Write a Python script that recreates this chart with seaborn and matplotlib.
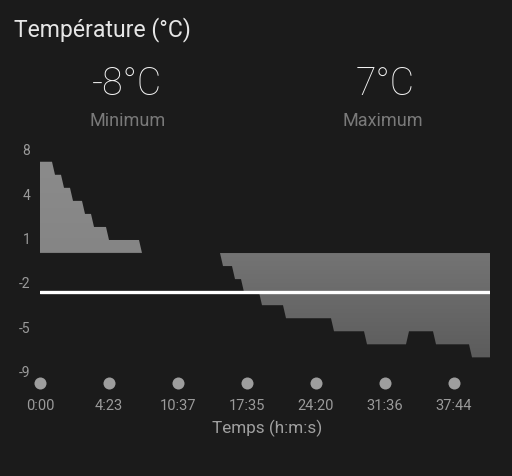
import numpy as np
import seaborn as sns
import matplotlib
matplotlib.use("Agg")
import matplotlib.pyplot as plt
from matplotlib.path import Path
from matplotlib.patches import PathPatch

# temperature levels (°C) and how many samples each level lasts
levels = [7, 6, 5, 4, 3, 2, 1, 0, -1, -2, -3, -4, -5, -6, -7, -6, -7, -8]
counts = [5, 3, 3, 4, 3, 5, 11, 27, 4, 3, 6, 8, 16, 11, 14, 9, 12, 7]
temps = np.repeat(levels, counts)
idx = np.arange(len(temps))

tick_idx = [0, 23, 46, 69, 92, 115, 138]
tick_labels = ["0:00", "4:23", "10:37", "17:35", "24:20", "31:36", "37:44"]
ytick_pos = [8, 4.6, 1.2, -2.2, -5.6, -9]
ytick_labels = ["8", "4", "1", "-2", "-5", "-9"]
ref_line = -3
t_min, t_max = -8, 7

bg = "#1b1b1b"
sns.set_theme(style="dark", rc={"axes.facecolor": bg, "figure.facecolor": bg})
plt.rcParams["font.family"] = ["Roboto", "DejaVu Sans"]

fig = plt.figure(figsize=(5.12, 4.77), dpi=100)
ax = fig.add_axes([40 / 512, 1 - 371.4 / 477, 450 / 512, 221.7 / 477])

sns.lineplot(x=idx, y=temps, ax=ax, lw=0)

# vertical gradient fill clipped to the area under the curve
ys = np.linspace(8, -9, 400)
g = np.where(ys >= 0, 133 + 7 * ys / 8, 116 + 24 * ys / 8) / 255
img = np.dstack([g, g, g]).reshape(len(ys), 1, 3)
im = ax.imshow(img, extent=(0, len(temps) - 1, -9, 8), aspect="auto", origin="upper", zorder=1)
poly = ax.fill_between(idx, temps, 0, color="none", lw=0)
clip = PathPatch(Path.make_compound_path(*poly.get_paths()), transform=ax.transData,
                 facecolor="none", edgecolor="none")
ax.add_patch(clip)
im.set_clip_path(clip)

ax.axhline(ref_line, color="white", lw=2.4, zorder=3)

ax.set_xlim(0, len(temps) - 1)
ax.set_ylim(-9, 8)
for s in ax.spines.values():
    s.set_visible(False)
ax.grid(False)

ax.set_yticks(ytick_pos)
ax.set_yticklabels(ytick_labels, color="#9a9a9a", fontsize=10)
for lbl in ax.get_yticklabels():
    lbl.set_y(lbl.get_position()[1])
ax.set_xticks(tick_idx)
ax.set_xticklabels(tick_labels, color="#9a9a9a", fontsize=10.5)
ax.tick_params(axis="both", length=0)
ax.tick_params(axis="y", pad=7)
ax.tick_params(axis="x", pad=20)

sns.scatterplot(x=tick_idx, y=[-0.057] * len(tick_idx), ax=ax, color="#9e9e9e",
                s=75, linewidth=0, transform=ax.get_xaxis_transform(), clip_on=False, zorder=4)
ax.set_xlim(0, len(temps) - 1)
ax.set_ylim(-9, 8)

fig.text(267 / 512, 1 - 428 / 477, "Temps (h:m:s)", color="#a0a0a0", fontsize=12.3,
         ha="center", va="center")
fig.text(14 / 512, 1 - 36 / 477, "Température (°C)", color="#e6e6e6", fontsize=16.6,
         ha="left", va="baseline")
fig.text(127 / 512, 1 - 95 / 477, f"{t_min}°C", color="#f2f2f2", fontsize=27,
         fontweight="light", ha="center", va="baseline")
fig.text(385 / 512, 1 - 95 / 477, f"{t_max}°C", color="#f2f2f2", fontsize=27,
         fontweight="light", ha="center", va="baseline")
fig.text(128 / 512, 1 - 126 / 477, "Minimum", color="#7a7a7a", fontsize=13,
         ha="center", va="baseline")
fig.text(383 / 512, 1 - 126 / 477, "Maximum", color="#7a7a7a", fontsize=13,
         ha="center", va="baseline")

fig.savefig("out.png", dpi=100, facecolor=bg)
